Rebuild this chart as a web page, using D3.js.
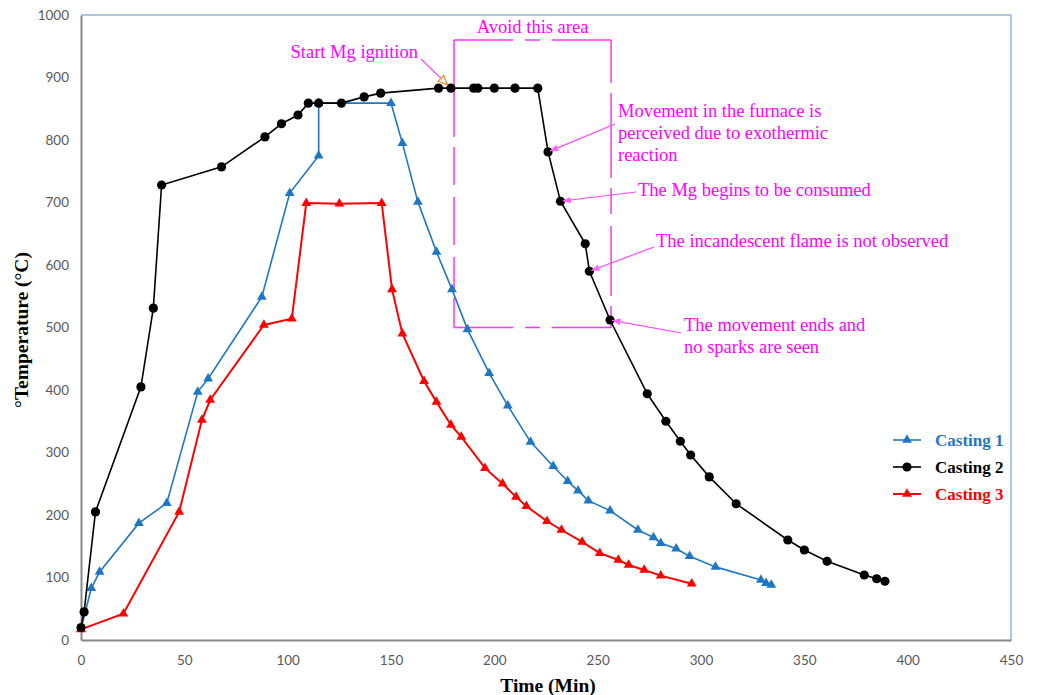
<!DOCTYPE html>
<html>
<head>
<meta charset="utf-8">
<script src="https://cdn.jsdelivr.net/npm/d3@7"></script>
<style>
  body { margin: 0; background: #fff; }
  svg { display: block; }
</style>
</head>
<body>
<svg id="chart"></svg>
<script>
// time (min) and temperature (°C)
let casting1Time = [0, 5, 9, 28, 41.5, 56.5, 61.5, 87.5, 101, 115, 115, 150, 155.5, 163, 172, 179.5, 187, 197.5, 206.5, 217.5, 228.5, 235.5, 240.5, 245.5, 256, 269.5, 277, 280.5, 288, 294.5, 307, 329, 331.5, 334]
let casting1Temp = [18, 83, 109, 187, 219, 397, 418, 549, 715, 775, 859, 859, 795, 701, 621, 561, 497, 427, 375, 317, 278, 254, 239, 223, 207, 176, 164, 155, 146, 134, 117, 96, 91, 88]

let casting2Time = [0, 1.5, 7, 29, 35, 39, 68, 89, 97, 105, 110, 115, 126, 137, 145, 173, 179, 190, 192, 200, 210, 221, 226, 232, 244, 246, 256, 274, 283, 290, 295, 304, 317, 342, 350, 361, 379, 385, 389]
let casting2Temp = [20, 45, 205, 405, 531, 728, 757, 805, 826, 840, 859, 859, 859, 869, 875, 883, 883, 883, 883, 883, 883, 883, 781, 702, 634, 590, 512, 394, 350, 318, 296, 261, 218, 160, 144, 126, 104, 98, 94]

let casting3Time = [0, 20.5, 47.5, 58.5, 62.5, 88.5, 102, 109, 125, 145.5, 150.5, 155.5, 166, 172, 179, 184, 195.5, 204, 210.5, 215.5, 225.5, 232.5, 242.5, 251, 260, 265, 272.5, 280.5, 295.5]
let casting3Temp = [17, 42, 205, 352, 384, 504, 514, 699, 698, 699, 561, 490, 414, 381, 344, 325, 275, 250, 229, 214, 190, 176, 157, 139, 128, 120, 112, 103, 90]

let seriesNames = ["Casting 1", "Casting 2", "Casting 3"]
let xTicks = [0, 50, 100, 150, 200, 250, 300, 350, 400, 450]
let yTicks = [0, 100, 200, 300, 400, 500, 600, 700, 800, 900, 1000]

// "Avoid this area" box: time from/to, temperature from/to
let avoidTime = [180.5, 256.5]
let avoidTemp = [500, 960]

// notes and the data point each one points at
let noteLines = [
    ["Start Mg ignition"],
    ["Movement in the furnace is", "perceived due to exothermic", "reaction"],
    ["The Mg begins to be consumed"],
    ["The incandescent flame is not observed"],
    ["The movement ends and", "no sparks are seen"]
]
let noteTime = [179, 226, 232, 246, 256]
let noteTemp = [883, 781, 702, 590, 512]

let width = 1038
let height = 695

let svg = d3.select("#chart")
    .attr("width", width)
    .attr("height", height)

let x = d3.scaleLinear().domain([0, 450]).range([81, 1011])
let y = d3.scaleLinear().domain([0, 1000]).range([640, 15])

let blue = "#1f77c4"
let colors = [blue, "#000000", "#ff0000"]
let serif = "'Liberation Serif', 'Times New Roman', serif"

// plot frame: grey axes at left/bottom, light blue top/right
svg.append("line").attr("x1", x(0)).attr("x2", x(450)).attr("y1", y(1000)).attr("y2", y(1000))
    .attr("stroke", "#95b3d7").attr("stroke-width", 1.5)
svg.append("line").attr("x1", x(450)).attr("x2", x(450)).attr("y1", y(1000)).attr("y2", y(0))
    .attr("stroke", "#95b3d7").attr("stroke-width", 1.5)

let xAxis = d3.axisBottom(x).tickValues(xTicks).tickSize(0).tickPadding(15).tickFormat(d3.format("d"))
let yAxis = d3.axisLeft(y).tickValues(yTicks).tickSize(0).tickPadding(12).tickFormat(d3.format("d"))

let gx = svg.append("g").attr("transform", "translate(0," + y(0) + ")").call(xAxis)
let gy = svg.append("g").attr("transform", "translate(" + x(0) + ",0)").call(yAxis)

;[gx, gy].forEach((g) => {
    g.select(".domain").attr("stroke", "#888888").attr("stroke-width", 2)
    g.selectAll("text")
        .attr("fill", "#595959")
        .style("font-family", "Lato, 'Open Sans', sans-serif")
        .style("font-size", "13.5px")
})

// axis titles
svg.append("text")
    .attr("x", 548)
    .attr("y", 692)
    .attr("text-anchor", "middle")
    .style("font-family", serif)
    .style("font-weight", "bold")
    .style("font-size", "19.5px")
    .text("Time (Min)")

svg.append("text")
    .attr("transform", "translate(28,330) rotate(-90)")
    .attr("text-anchor", "middle")
    .style("font-family", serif)
    .style("font-weight", "bold")
    .style("font-size", "19.5px")
    .text("°Temperature (°C)")

// avoid area box, drawn side by side to get the broken dashes
let ax0 = x(avoidTime[0]), ax1 = x(avoidTime[1])
let ay0 = y(avoidTemp[1]), ay1 = y(avoidTemp[0])
let boxSides = [
    [ax0, ay0, ax1, ay0, "59,12,15,12,80"],
    [ax0, ay1, ax1, ay1, "59,12,15,12,80"],
    [ax0, ay0, ax0, ay1, "97,10,38,12,48,12,33,8,80"],
    [ax1, ay0, ax1, ay1, "43,10,85,10,26,12,70,10,40"]
]
svg.append("g").selectAll("line")
    .data(boxSides)
    .enter()
    .append("line")
    .attr("x1", (d) => d[0]).attr("y1", (d) => d[1])
    .attr("x2", (d) => d[2]).attr("y2", (d) => d[3])
    .attr("stroke", "#ff33ff")
    .attr("stroke-width", 1.5)
    .attr("stroke-dasharray", (d) => d[4])

svg.append("text")
    .attr("x", (ax0 + ax1) / 2)
    .attr("y", ay0 - 7)
    .attr("text-anchor", "middle")
    .attr("fill", "#ff00ff")
    .style("font-family", serif)
    .style("font-size", "18.5px")
    .text("Avoid this area")

// series
let seriesData = [
    casting1Time.map((t, i) => [t, casting1Temp[i]]),
    casting2Time.map((t, i) => [t, casting2Temp[i]]),
    casting3Time.map((t, i) => [t, casting3Temp[i]])
]

let line = d3.line()
    .x((d) => x(d[0]))
    .y((d) => y(d[1]))

let triangle = d3.symbol().type(d3.symbolTriangle).size(42)

let drawMarker = (g, k) => {
    if (k === 1) {
        g.append("circle").attr("r", 4.6).attr("fill", "#000")
    } else {
        g.append("path").attr("d", triangle).attr("fill", colors[k])
    }
}

let drawOrder = [0, 2, 1]
drawOrder.forEach((k) => {
    svg.append("path")
        .datum(seriesData[k])
        .attr("d", line)
        .attr("fill", "none")
        .attr("stroke", colors[k])
        .attr("stroke-width", k === 2 ? 2 : 1.6)

    svg.append("g").selectAll("g")
        .data(seriesData[k])
        .enter()
        .append("g")
        .attr("transform", (d) => "translate(" + x(d[0]) + "," + y(d[1]) + ")")
        .each(function () {
            drawMarker(d3.select(this), k)
        })
})

// note arrows
let defs = svg.append("defs")
defs.append("marker")
    .attr("id", "pinkHead")
    .attr("viewBox", "0 0 10 10")
    .attr("refX", 10).attr("refY", 5)
    .attr("markerWidth", 7).attr("markerHeight", 7)
    .attr("orient", "auto")
    .append("path")
    .attr("d", "M0,1 L10,5 L0,9 Z")
    .attr("fill", "#ff66ff")
defs.append("marker")
    .attr("id", "orangeHead")
    .attr("viewBox", "0 0 12 12")
    .attr("refX", 11).attr("refY", 6)
    .attr("markerWidth", 9).attr("markerHeight", 9)
    .attr("orient", "auto")
    .append("path")
    .attr("d", "M1,1.5 L11,6 L1,10.5 Z")
    .attr("fill", "#fff")
    .attr("stroke", "#f08a24")
    .attr("stroke-width", 1.4)

// where each note text sits and where its arrow starts
let noteLayout = [
    { tx: 418, ty: 58, anchor: "end", sx: 421, sy: 59, gap: 5 },
    { tx: 618, ty: 117, anchor: "start", sx: 615, sy: 124, gap: 2 },
    { tx: 638, ty: 196, anchor: "start", sx: 636, sy: 192, gap: 2 },
    { tx: 656, ty: 247, anchor: "start", sx: 654, sy: 247, gap: 2 },
    { tx: 684, ty: 331, anchor: "start", sx: 681, sy: 333, gap: 2 }
]

noteLines.forEach((lines, i) => {
    let lay = noteLayout[i]
    let px = x(noteTime[i]), py = y(noteTemp[i])
    let dx = px - lay.sx, dy = py - lay.sy
    let len = Math.sqrt(dx * dx + dy * dy)
    svg.append("line")
        .attr("x1", lay.sx).attr("y1", lay.sy)
        .attr("x2", px - dx / len * lay.gap).attr("y2", py - dy / len * lay.gap)
        .attr("stroke", "#ff44ff")
        .attr("stroke-width", 1.2)
        .attr("marker-end", i === 0 ? "url(#orangeHead)" : "url(#pinkHead)")

    let t = svg.append("text")
        .attr("x", lay.tx)
        .attr("y", lay.ty)
        .attr("text-anchor", lay.anchor)
        .attr("fill", "#ff00ff")
        .style("font-family", serif)
        .style("font-size", "18.5px")
    lines.forEach((s, j) => {
        t.append("tspan").attr("x", lay.tx).attr("dy", j === 0 ? 0 : 22).text(s)
    })
})

// legend
let legend = svg.append("g").attr("transform", "translate(893,440)")
seriesNames.forEach((name, k) => {
    let row = legend.append("g").attr("transform", "translate(0," + (k * 27) + ")")
    row.append("line")
        .attr("x1", 0).attr("x2", 28)
        .attr("stroke", colors[k])
        .attr("stroke-width", k === 2 ? 2 : 1.6)
    drawMarker(row.append("g").attr("transform", "translate(14,0)"), k)
    row.append("text")
        .attr("x", 42)
        .attr("y", 5.5)
        .attr("fill", colors[k])
        .style("font-family", serif)
        .style("font-weight", "bold")
        .style("font-size", "17px")
        .text(name)
})
</script>
</body>
</html>
